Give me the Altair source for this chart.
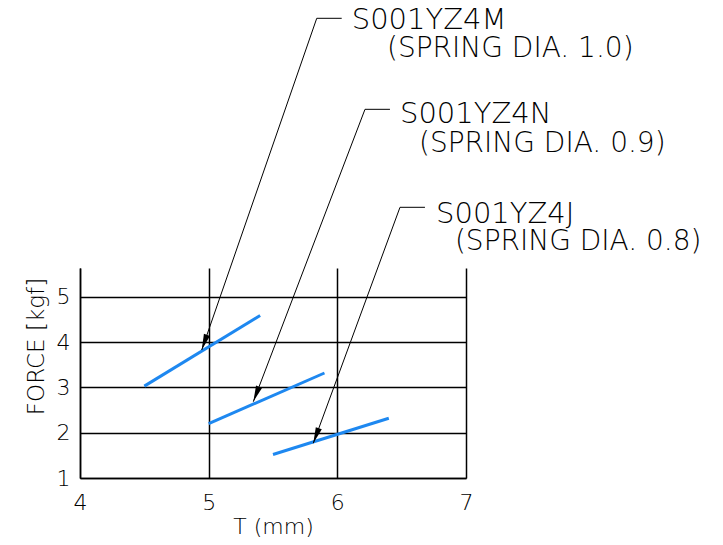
import math
import altair as alt
import pandas as pd

# ---- data ----
series = ["S001YZ4M", "S001YZ4N", "S001YZ4J"]
sub_labels = ["(SPRING DIA. 1.0)", "(SPRING DIA. 0.9)", "(SPRING DIA. 0.8)"]
t_start = [4.5, 5.0, 5.5]
t_end = [5.4, 5.9, 6.4]
f_start = [3.03, 2.20, 1.52]
f_end = [4.59, 3.32, 2.32]

# annotation anchor points (data units)
tip_x = [4.946, 5.347, 5.813]
tip_y = [3.828, 2.686, 1.767]
corner_x = [5.840, 6.215, 6.487]
corner_y = [11.157, 9.146, 6.981]
shelf_x = [6.034, 6.409, 6.681]
label_x = [6.112, 6.487, 6.767]
label_y = [10.92, 8.837, 6.641]
sub_x = [6.386, 6.635, 6.914]
sub_y = [10.295, 8.209, 6.038]

x_ticks = [4, 5, 6, 7]
y_ticks = [1, 2, 3, 4, 5]
x_domain = [4, 7]
y_domain = [1, 5.64]

W, H = 386, 210
FONT = "DejaVu Sans"
BLUE = "#1E88F0"

# ---- tables ----
lines_df = pd.DataFrame(
    [{"series": s, "x": a, "y": b} for s, a, b in zip(series, t_start, f_start)]
    + [{"series": s, "x": a, "y": b} for s, a, b in zip(series, t_end, f_end)]
)

leader_df = pd.DataFrame(
    [{"x": cx, "y": cy, "x2": tx, "y2": ty} for cx, cy, tx, ty in zip(corner_x, corner_y, tip_x, tip_y)]
    + [{"x": cx, "y": cy, "x2": sx, "y2": cy} for cx, cy, sx in zip(corner_x, corner_y, shelf_x)]
)

px_x = W / (x_domain[1] - x_domain[0])
px_y = H / (y_domain[1] - y_domain[0])
angles = []
for cx, cy, tx, ty in zip(corner_x, corner_y, tip_x, tip_y):
    dx = (tx - cx) * px_x
    dy = -(ty - cy) * px_y
    ang = math.degrees(math.atan2(-dx, dy)) % 360
    angles.append(ang)
head_df = pd.DataFrame({"x": tip_x, "y": tip_y, "angle": angles})

label_df = pd.DataFrame({"x": label_x, "y": label_y, "label": series})
sub_df = pd.DataFrame({"x": sub_x, "y": sub_y, "label": sub_labels})

# ---- encodings ----
def X(field="x"):
    return alt.X(
        f"{field}:Q",
        scale=alt.Scale(domain=x_domain, nice=False, zero=False),
        axis=alt.Axis(
            values=x_ticks, grid=True, gridColor="black", gridWidth=1.5, gridOpacity=1,
            ticks=False, tickSize=0, domainColor="black", domainWidth=1.5,
            labelFont=FONT, labelFontSize=22, labelColor="black", labelPadding=14,
            labelFlush=False, labelFontWeight=300,
            title="T (mm)", titleFont=FONT, titleFontSize=22, titleFontWeight=300,
            titleColor="black", titleY=55, titleBaseline="alphabetic",
        ),
    )


def Y(field="y"):
    return alt.Y(
        f"{field}:Q",
        scale=alt.Scale(domain=y_domain, nice=False, zero=False),
        axis=alt.Axis(
            values=y_ticks, grid=True, gridColor="black", gridWidth=1.5, gridOpacity=1,
            ticks=False, tickSize=0, domainColor="black", domainWidth=1.5,
            labelFont=FONT, labelFontSize=22, labelColor="black", labelPadding=10,
            labelFlush=False, labelFontWeight=300,
            title="FORCE [kgf]", titleFont=FONT, titleFontSize=23, titleFontWeight=300,
            titleColor="black", titleX=-37, titleY=78, titleBaseline="alphabetic",
            titleAlign="center", titleAngle=270,
        ),
    )


lines = alt.Chart(lines_df).mark_line(strokeWidth=3, clip=True).encode(
    x=X(), y=Y(), detail="series:N", color=alt.value(BLUE)
)

leaders = alt.Chart(leader_df).mark_rule(strokeWidth=1, color="black").encode(
    x=X(), y=Y(), x2="x2:Q", y2="y2:Q"
)

heads = alt.Chart(head_df).mark_point(
    shape="M0,0L-0.2,-1L0.2,-1Z", filled=True, color="black", size=1024, opacity=1, strokeWidth=0
).encode(x=X(), y=Y(), angle=alt.Angle("angle:Q", scale=None))

labels = alt.Chart(label_df).mark_text(
    align="left", baseline="alphabetic", font=FONT, fontSize=29, fontWeight=300, color="black"
).encode(x=X(), y=Y(), text="label:N")

subs = alt.Chart(sub_df).mark_text(
    align="left", baseline="alphabetic", font=FONT, fontSize=28, fontWeight=300, color="black"
).encode(x=X(), y=Y(), text="label:N")

chart = (
    alt.layer(lines, leaders, heads, labels, subs)
    .properties(
        width=W, height=H,
        autosize=alt.AutoSizeParams(type="none"),
        padding={"left": 72, "top": 260, "right": 249, "bottom": 59},
        background="white",
    )
    .configure_view(stroke=None)
)

chart.save("out.html", embed_options={"renderer": "svg", "actions": False})
